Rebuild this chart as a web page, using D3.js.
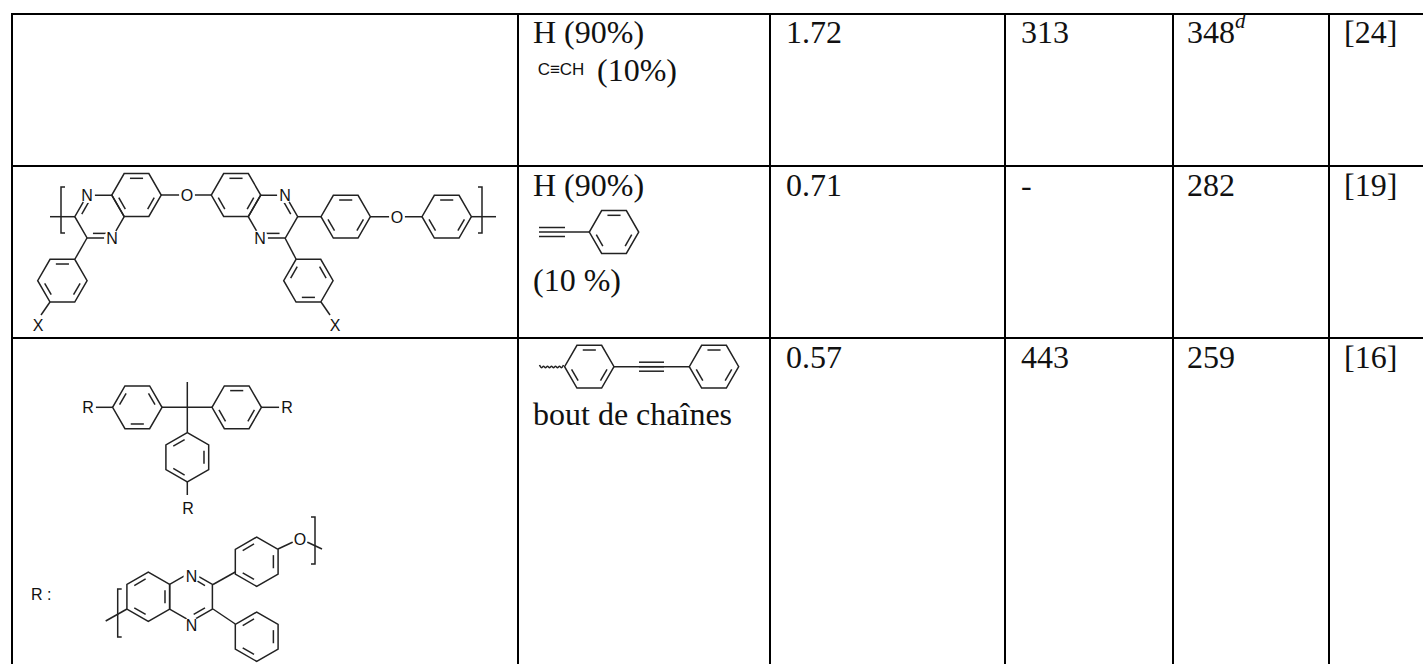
<!DOCTYPE html>
<html lang="en">
<head>
<meta charset="UTF-8"/>
<title>Table resine polyquinoxaline</title>
<script src="https://d3js.org/d3.v7.min.js"></script>
<style>
	html, body { margin: 0; padding: 0; background: #fff; }
	svg { display: block; }
	.cell { font-family: "Liberation Serif", serif; font-size: 32px; fill: #111; }
	.atom { font-family: "Liberation Sans", sans-serif; font-size: 16px; fill: #111; text-anchor: middle; }
	.bond { stroke: #222; stroke-width: 1.5; fill: none; }
</style>
</head>
<body>
<script>
// table content
var colNames = ["structure", "x", "a", "b", "c", "ref"];
var rowNames = ["r1", "r2", "r3"];
var col3 = ["1.72", "0.71", "0.57"];
var col4 = ["313", "-", "443"];
var col5 = ["348", "282", "259"];
var col6 = ["[24]", "[19]", "[16]"];
var superscripts = ["d", "", ""];

// grid layout, the table runs off the right and bottom of the page
var w = 1423, h = 664;
var colEdges = [12, 518, 770, 1005, 1173, 1329];
var rowEdges = [14, 166, 338];
var colX = d3.scaleOrdinal().domain(colNames).range(colEdges);
var baseline = d3.scaleOrdinal().domain(rowNames).range([43, 196, 368]);

var svg = d3.select("body").append("svg").attr("width", w).attr("height", h);

svg.selectAll("line.h").data(rowEdges).enter().append("line").attr("class", "h")
	.attr("x1", colEdges[0] - 1).attr("x2", w)
	.attr("y1", function(d){ return d; }).attr("y2", function(d){ return d; })
	.attr("stroke", "#000").attr("stroke-width", 2);
svg.selectAll("line.v").data(colEdges).enter().append("line").attr("class", "v")
	.attr("y1", rowEdges[0] - 1).attr("y2", h)
	.attr("x1", function(d){ return d; }).attr("x2", function(d){ return d; })
	.attr("stroke", "#000").attr("stroke-width", 2);

function cellText(values, name, pad) {
	svg.selectAll("text." + name).data(values).enter().append("text")
		.attr("class", "cell " + name)
		.attr("x", colX(name) + pad)
		.attr("y", function(d, i){ return baseline(rowNames[i]); })
		.text(function(d){ return d; });
}
cellText(col3, "a", 16);
cellText(col4, "b", 16);
cellText(col5, "c", 14);
cellText(col6, "ref", 15);
svg.append("text").attr("class", "cell").attr("x", 1235).attr("y", 28)
	.style("font-size", "21px").style("font-style", "italic").text(superscripts[0]);

function cellLine(t, x, y) {
	svg.append("text").attr("class", "cell").attr("x", x).attr("y", y).text(t);
}
cellLine("H (90%)", 533, 43);
cellLine("(10%)", 597, 81);
cellLine("H (90%)", 533, 196);
cellLine("(10 %)", 533, 291);
cellLine("bout de chaînes", 533, 425);
svg.append("text").attr("class", "atom").attr("x", 561).attr("y", 75)
	.style("font-size", "17px").text("C≡CH");

// molecule drawing helpers
var r = 24.7;
var lineGen = d3.line();

function bond(x1, y1, x2, y2) {
	svg.append("path").attr("class", "bond").attr("d", lineGen([[x1, y1], [x2, y2]]));
}

// rot 0 = flat top, rot 30 = point on top; edge i joins vertex i and i+1
function ring(cx, cy, rot, doubles) {
	var pts = d3.range(6).map(function(i){
		var a = (rot + i * 60) * Math.PI / 180;
		return [cx + r * Math.cos(a), cy + r * Math.sin(a)];
	});
	svg.append("path").attr("class", "bond").attr("d", d3.line().curve(d3.curveLinearClosed)(pts));
	doubles.forEach(function(i){
		var p = pts[i], q = pts[(i + 1) % 6];
		var k = 0.78, m = 0.16;
		var a = [cx + (p[0] - cx) * k, cy + (p[1] - cy) * k];
		var b = [cx + (q[0] - cx) * k, cy + (q[1] - cy) * k];
		bond(a[0] + (b[0] - a[0]) * m, a[1] + (b[1] - a[1]) * m,
			b[0] - (b[0] - a[0]) * m, b[1] - (b[1] - a[1]) * m);
	});
}

function atom(t, x, y) {
	svg.append("circle").attr("cx", x).attr("cy", y - 6).attr("r", 8).attr("fill", "#fff");
	svg.append("text").attr("class", "atom").attr("x", x).attr("y", y).text(t);
}

function bracket(x, y1, y2, dir) {
	svg.append("path").attr("class", "bond")
		.attr("d", lineGen([[x + dir * 4, y1], [x, y1], [x, y2], [x + dir * 4, y2]]));
}

function triple(x1, x2, y, gap) {
	[-gap, 0, gap].forEach(function(d){ bond(x1, y + d, x2, y + d); });
}

// row 2 repeat unit
var alt = [4, 0, 2], altB = [3, 5, 1];
bond(50, 216.7, 75, 216.7);
ring(99.5, 216.7, 0, [3, 1]);
ring(136.5, 195, 0, alt);
bond(161, 195, 212, 195);
ring(236, 195, 0, alt);
ring(273, 216.7, 0, [5, 1]);
bond(297, 216.7, 321, 216.7);
ring(345.7, 216.7, 0, alt);
bond(370, 216.7, 422, 216.7);
ring(446.7, 216.7, 0, alt);
bond(471, 216.7, 496, 216.7);
bond(87, 238, 75, 259);
ring(62.4, 280.7, 0, alt);
bond(50, 302, 41, 315);
bond(285, 238, 296, 259);
ring(308.4, 280.7, 0, altB);
bond(321, 302, 330, 315);
bracket(61, 187, 233, 1);
bracket(482, 187, 233, -1);
atom("N", 87, 201);
atom("N", 112, 244);
atom("O", 187, 201);
atom("N", 285, 201);
atom("N", 260, 244);
atom("O", 397, 223);
atom("X", 38, 331);
atom("X", 335, 331);

// row 2 end group
bond(565, 232, 589, 232);
triple(539, 565, 232, 4.5);
ring(614, 232, 0, alt);

// row 3 end group
svg.append("path").attr("class", "bond")
	.attr("d", d3.line().curve(d3.curveBasis)(d3.range(0, 13).map(function(i){
		return [539.5 + i * 2, 367 + (i % 2 ? 2 : -2)];
	})));
ring(589.3, 366.7, 0, alt);
bond(614, 366.7, 689, 366.7);
triple(639, 664, 366.7, 4.5);
ring(714, 366.7, 0, alt);

// row 3 core
bond(187.3, 382, 187.3, 432);
bond(162, 407.3, 212, 407.3);
ring(137.3, 407.3, 0, altB);
ring(236.7, 407.3, 0, alt);
ring(187.3, 457.3, 30, [1, 3, 5]);
bond(94, 407.3, 113, 407.3);
bond(261, 407.3, 281, 407.3);
bond(187.3, 482, 187.3, 495);
atom("R", 88, 413);
atom("R", 287, 413);
atom("R", 188, 514);

// R substituent
svg.append("text").attr("class", "atom").attr("x", 31).attr("y", 600)
	.style("text-anchor", "start").text("R :");
bond(127, 609, 105.7, 621);
ring(148.3, 596.7, 30, [1, 3, 5]);
ring(191, 596.7, 30, [0, 4]);
bond(213, 584.5, 235.3, 572);
ring(256.7, 561.7, 30, [1, 3, 5]);
bond(278, 549, 293, 542);
bond(307, 542, 322, 549);
bond(213, 609, 235.3, 624);
ring(256.7, 636.7, 30, [1, 3, 5]);
bracket(117.7, 589, 637, 1);
bracket(315, 517, 564, -1);
atom("N", 191.5, 582);
atom("N", 191.5, 631);
atom("O", 300, 545);
</script>
</body>
</html>
